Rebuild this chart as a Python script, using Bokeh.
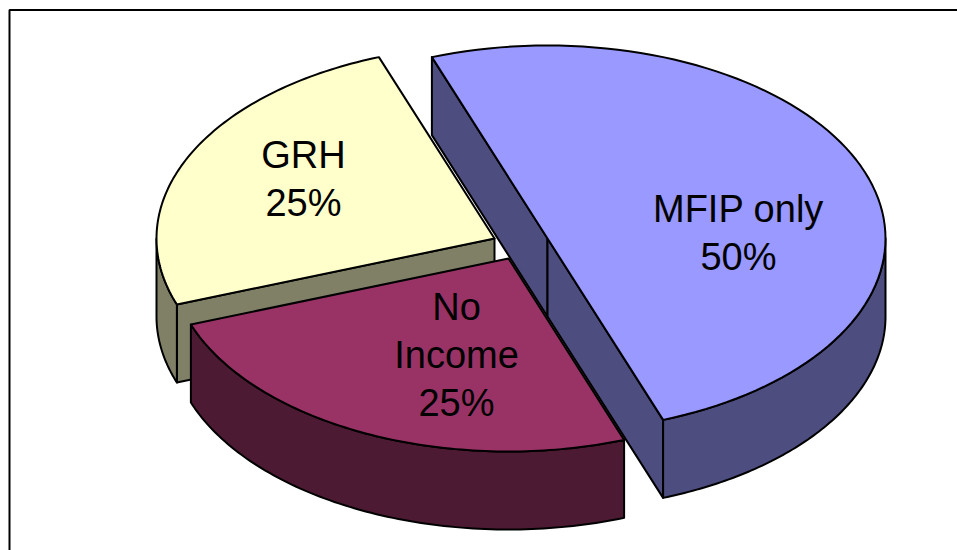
from math import cos, sin, radians
from bokeh.plotting import figure
from bokeh.models import Range1d, ColumnDataSource
from bokeh.core.properties import value
from bokeh.embed import file_html
from bokeh.resources import INLINE

# data
categories = ["MFIP only", "No Income", "GRH"]
shares = [50, 25, 25]
label_lines = [["MFIP only"], ["No", "Income"], ["GRH"]]
top_colors = ["#9999FF", "#993366", "#FFFFCC"]
side_colors = ["#4D4D80", "#4D1A33", "#808066"]

# layout (in picture pixels)
W, H = 957, 550
RX, RY = 338, 193
DEPTH = 78
START = 110.0
centers = [(547, 238), (508, 258), (494, 238)]
label_pos = [(738, 208), (456, 306), (303, 154)]
LEAD = 48


def X(px):
    return px


def Y(py):
    return H - py


p = figure(width=W, height=H, output_backend="svg", toolbar_location=None,
           x_range=Range1d(0, W), y_range=Range1d(0, H), min_border=0)
p.axis.visible = False
p.grid.visible = False
p.outline_line_color = None
p.background_fill_color = "white"

# frame: top and left edges
p.line([X(W), X(9), X(9)], [Y(9.5), Y(9.5), Y(H)], line_color="black", line_width=2)

# slice angular spans, clockwise from START
spans = []
a = START
for s in shares:
    b = a - s / sum(shares) * 360.0
    spans.append((a, b))
    a = b


def pt(c, t, dy=0):
    return (c[0] + RX * cos(radians(t)), c[1] - RY * sin(radians(t)) + dy)


def arc(c, t0, t1, dy=0, n=90):
    return [pt(c, t0 + (t1 - t0) * i / n, dy) for i in range(n + 1)]


def poly(pts, fill):
    p.patch([X(q[0]) for q in pts], [Y(q[1]) for q in pts], fill_color=fill,
            line_color="black", line_width=2, line_join="round")


def cut(c, t, fill):
    e = pt(c, t)
    poly([c, e, (e[0], e[1] + DEPTH), (c[0], c[1] + DEPTH)], fill)


def rim(c, t0, t1, fill):
    poly(arc(c, t0, t1) + arc(c, t1, t0, DEPTH), fill)


# back to front
c0, c1, c2 = centers
(a0, b0), (a1, b1), (a2, b2) = spans

cut(c0, a0, side_colors[0])
cut(c0, b0, side_colors[0])
rim(c0, b0, 0, side_colors[0])

cut(c2, b1, side_colors[2])
rim(c2, -180, b1, side_colors[2])
poly([c2] + arc(c2, a2, b2), top_colors[2])

rim(c1, a1, b1, side_colors[1])
poly([c1] + arc(c1, a1, b1), top_colors[1])

poly([c0] + arc(c0, a0, b0), top_colors[0])

# labels
xs, ys, txt = [], [], []
for lines, share, (lx, ly) in zip(label_lines, shares, label_pos):
    for i, t in enumerate(lines + [f"{share}%"]):
        xs.append(X(lx))
        ys.append(Y(ly + i * LEAD))
        txt.append(t)
src = ColumnDataSource(dict(x=xs, y=ys, t=txt))
p.text("x", "y", text="t", source=src, text_font=value("Liberation Sans"),
       text_font_size="38px", text_color="black", text_align="center",
       text_baseline="middle")

open("out.html", "w").write(file_html(p, INLINE))
